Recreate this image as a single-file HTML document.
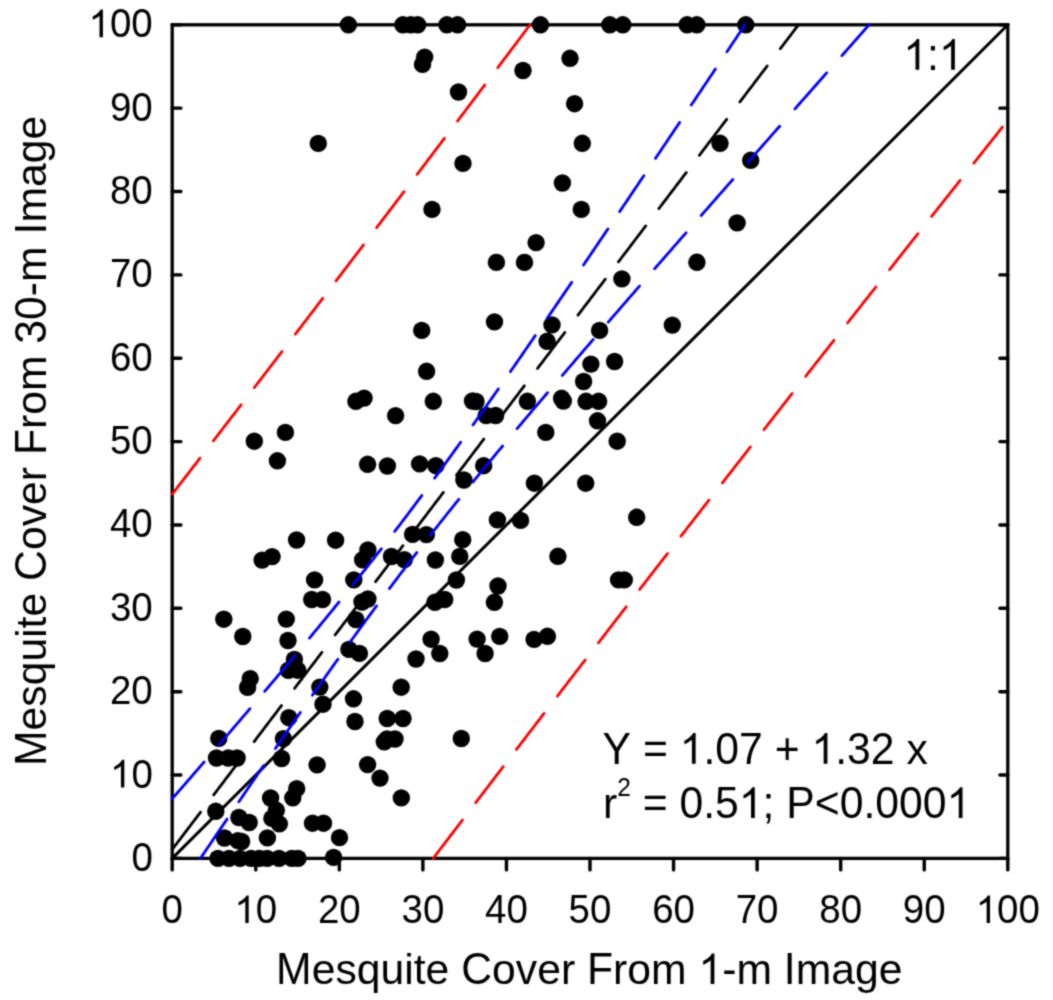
<!DOCTYPE html>
<html><head><meta charset="utf-8"><title>Mesquite Cover</title>
<style>html,body{margin:0;padding:0;background:#fff;} body{width:1053px;height:1000px;overflow:hidden;font-family:"Liberation Sans", sans-serif;} svg{display:block;}</style>
</head><body>
<svg width="1053" height="1000" viewBox="0 0 1053 1000">
<defs><filter id="soft" filterUnits="userSpaceOnUse" x="0" y="0" width="1053" height="1000" color-interpolation-filters="sRGB"><feConvolveMatrix order="3" kernelMatrix="1 3 1 3 9 3 1 3 1" divisor="25" edgeMode="duplicate" preserveAlpha="true"/></filter></defs>
<g filter="url(#soft)">
<rect width="1053" height="1000" fill="#fff"/>
<rect x="172.20" y="24.80" width="835.60" height="833.60" fill="none" stroke="#000" stroke-width="3.3"/>
<path d="M172.20,858.40 h8.7 M1007.80,858.40 h-7.9 M172.20,858.40 v11.5 M172.20,775.04 h8.7 M1007.80,775.04 h-7.9 M255.76,858.40 v11.5 M172.20,691.68 h8.7 M1007.80,691.68 h-7.9 M339.32,858.40 v11.5 M172.20,608.32 h8.7 M1007.80,608.32 h-7.9 M422.88,858.40 v11.5 M172.20,524.96 h8.7 M1007.80,524.96 h-7.9 M506.44,858.40 v11.5 M172.20,441.60 h8.7 M1007.80,441.60 h-7.9 M590.00,858.40 v11.5 M172.20,358.24 h8.7 M1007.80,358.24 h-7.9 M673.56,858.40 v11.5 M172.20,274.88 h8.7 M1007.80,274.88 h-7.9 M757.12,858.40 v11.5 M172.20,191.52 h8.7 M1007.80,191.52 h-7.9 M840.68,858.40 v11.5 M172.20,108.16 h8.7 M1007.80,108.16 h-7.9 M924.24,858.40 v11.5 M172.20,24.80 h8.7 M1007.80,24.80 h-7.9 M1007.80,858.40 v11.5" stroke="#000" stroke-width="3.4" stroke-linecap="round" fill="none"/>
<g fill="#000">
<circle cx="348.4" cy="24.8" r="8.7"/>
<circle cx="402.9" cy="24.8" r="8.7"/>
<circle cx="410.8" cy="24.8" r="8.7"/>
<circle cx="417.7" cy="24.8" r="8.7"/>
<circle cx="446.9" cy="24.8" r="8.7"/>
<circle cx="457.6" cy="24.8" r="8.7"/>
<circle cx="540.5" cy="24.8" r="8.7"/>
<circle cx="609.8" cy="24.8" r="8.7"/>
<circle cx="622.8" cy="24.8" r="8.7"/>
<circle cx="687.1" cy="24.8" r="8.7"/>
<circle cx="696.9" cy="24.8" r="8.7"/>
<circle cx="745.8" cy="24.8" r="8.7"/>
<circle cx="424.7" cy="57.1" r="8.7"/>
<circle cx="422.5" cy="64.4" r="8.7"/>
<circle cx="458.5" cy="92" r="8.7"/>
<circle cx="463" cy="163.4" r="8.7"/>
<circle cx="318.3" cy="143.4" r="8.7"/>
<circle cx="523" cy="70.5" r="8.7"/>
<circle cx="570" cy="58.3" r="8.7"/>
<circle cx="574.6" cy="103.7" r="8.7"/>
<circle cx="582.3" cy="143.3" r="8.7"/>
<circle cx="562.4" cy="183" r="8.7"/>
<circle cx="720" cy="143.3" r="8.7"/>
<circle cx="750.7" cy="160.3" r="8.7"/>
<circle cx="432" cy="209.4" r="8.7"/>
<circle cx="581.3" cy="209.4" r="8.7"/>
<circle cx="536.1" cy="242.6" r="8.7"/>
<circle cx="496.4" cy="262.4" r="8.7"/>
<circle cx="524.5" cy="262.4" r="8.7"/>
<circle cx="621.9" cy="278.9" r="8.7"/>
<circle cx="737.1" cy="222.9" r="8.7"/>
<circle cx="696.9" cy="262.3" r="8.7"/>
<circle cx="672.3" cy="325.1" r="8.7"/>
<circle cx="599.6" cy="330.4" r="8.7"/>
<circle cx="494.5" cy="321.9" r="8.7"/>
<circle cx="421.7" cy="330.4" r="8.7"/>
<circle cx="552" cy="324.9" r="8.7"/>
<circle cx="547.1" cy="341.3" r="8.7"/>
<circle cx="426.6" cy="371.3" r="8.7"/>
<circle cx="355.9" cy="401.3" r="8.7"/>
<circle cx="364.1" cy="398.1" r="8.7"/>
<circle cx="395.6" cy="415.6" r="8.7"/>
<circle cx="433.3" cy="401.3" r="8.7"/>
<circle cx="472.5" cy="401" r="8.7"/>
<circle cx="476" cy="401.5" r="8.7"/>
<circle cx="486.2" cy="415.5" r="8.7"/>
<circle cx="495.6" cy="415.5" r="8.7"/>
<circle cx="367.6" cy="464.3" r="8.7"/>
<circle cx="387.4" cy="466" r="8.7"/>
<circle cx="419.6" cy="463.9" r="8.7"/>
<circle cx="435.9" cy="465.7" r="8.7"/>
<circle cx="463.9" cy="480" r="8.7"/>
<circle cx="483.7" cy="465.7" r="8.7"/>
<circle cx="254.3" cy="441.2" r="8.7"/>
<circle cx="285.4" cy="432.4" r="8.7"/>
<circle cx="277.4" cy="460.8" r="8.7"/>
<circle cx="590.9" cy="364.1" r="8.7"/>
<circle cx="614.6" cy="361.5" r="8.7"/>
<circle cx="583.6" cy="381.5" r="8.7"/>
<circle cx="527.4" cy="401.3" r="8.7"/>
<circle cx="561.6" cy="398.3" r="8.7"/>
<circle cx="563.3" cy="401" r="8.7"/>
<circle cx="586.1" cy="401.3" r="8.7"/>
<circle cx="598.6" cy="401.3" r="8.7"/>
<circle cx="597.5" cy="420.8" r="8.7"/>
<circle cx="545.8" cy="432.4" r="8.7"/>
<circle cx="617.2" cy="441.2" r="8.7"/>
<circle cx="534.4" cy="483.2" r="8.7"/>
<circle cx="585.7" cy="483.2" r="8.7"/>
<circle cx="296.6" cy="540" r="8.7"/>
<circle cx="262.1" cy="560.1" r="8.7"/>
<circle cx="272.1" cy="556.6" r="8.7"/>
<circle cx="314.6" cy="579.9" r="8.7"/>
<circle cx="311.7" cy="599.5" r="8.7"/>
<circle cx="322.5" cy="599.5" r="8.7"/>
<circle cx="223.8" cy="619.2" r="8.7"/>
<circle cx="242.8" cy="636.5" r="8.7"/>
<circle cx="286.3" cy="619.1" r="8.7"/>
<circle cx="288" cy="640.5" r="8.7"/>
<circle cx="294.4" cy="659.5" r="8.7"/>
<circle cx="288.4" cy="670.3" r="8.7"/>
<circle cx="297.7" cy="670.2" r="8.7"/>
<circle cx="335.6" cy="540.2" r="8.7"/>
<circle cx="367.9" cy="550" r="8.7"/>
<circle cx="362.6" cy="559.8" r="8.7"/>
<circle cx="353.8" cy="579.9" r="8.7"/>
<circle cx="391.5" cy="556.5" r="8.7"/>
<circle cx="404.3" cy="559.6" r="8.7"/>
<circle cx="412.6" cy="534.4" r="8.7"/>
<circle cx="426.4" cy="534.6" r="8.7"/>
<circle cx="435.4" cy="560" r="8.7"/>
<circle cx="462.7" cy="539.7" r="8.7"/>
<circle cx="459.8" cy="556.4" r="8.7"/>
<circle cx="456.4" cy="580" r="8.7"/>
<circle cx="434.9" cy="602.3" r="8.7"/>
<circle cx="444.7" cy="599.5" r="8.7"/>
<circle cx="367.9" cy="599" r="8.7"/>
<circle cx="362" cy="602" r="8.7"/>
<circle cx="355.9" cy="619.6" r="8.7"/>
<circle cx="348.9" cy="649.4" r="8.7"/>
<circle cx="359.4" cy="653.4" r="8.7"/>
<circle cx="431.1" cy="639.2" r="8.7"/>
<circle cx="439.8" cy="653.5" r="8.7"/>
<circle cx="416" cy="659" r="8.7"/>
<circle cx="477.1" cy="639.1" r="8.7"/>
<circle cx="485.1" cy="653.5" r="8.7"/>
<circle cx="497.4" cy="519.9" r="8.7"/>
<circle cx="520.6" cy="520.4" r="8.7"/>
<circle cx="636.7" cy="517.3" r="8.7"/>
<circle cx="557.9" cy="556.3" r="8.7"/>
<circle cx="618.6" cy="579.9" r="8.7"/>
<circle cx="624.3" cy="579.9" r="8.7"/>
<circle cx="498" cy="586" r="8.7"/>
<circle cx="494.4" cy="602.3" r="8.7"/>
<circle cx="499.7" cy="636.4" r="8.7"/>
<circle cx="534.1" cy="639.4" r="8.7"/>
<circle cx="547.4" cy="636.3" r="8.7"/>
<circle cx="250.2" cy="678.7" r="8.7"/>
<circle cx="247.6" cy="687.4" r="8.7"/>
<circle cx="218.8" cy="738.4" r="8.7"/>
<circle cx="216.5" cy="758" r="8.7"/>
<circle cx="228.2" cy="758" r="8.7"/>
<circle cx="237.1" cy="758" r="8.7"/>
<circle cx="215.8" cy="811.3" r="8.7"/>
<circle cx="238.9" cy="817.5" r="8.7"/>
<circle cx="249.2" cy="822.5" r="8.7"/>
<circle cx="224.5" cy="838.0" r="8.7"/>
<circle cx="237.9" cy="840.6" r="8.7"/>
<circle cx="241.6" cy="841.5" r="8.7"/>
<circle cx="267.4" cy="837.9" r="8.7"/>
<circle cx="319.8" cy="687.1" r="8.7"/>
<circle cx="323" cy="704.2" r="8.7"/>
<circle cx="288.8" cy="717.7" r="8.7"/>
<circle cx="283.4" cy="738.6" r="8.7"/>
<circle cx="281.6" cy="758.5" r="8.7"/>
<circle cx="317.1" cy="764.9" r="8.7"/>
<circle cx="296.7" cy="788.7" r="8.7"/>
<circle cx="292.8" cy="797.8" r="8.7"/>
<circle cx="270.6" cy="798" r="8.7"/>
<circle cx="276.3" cy="810.3" r="8.7"/>
<circle cx="271.9" cy="818.4" r="8.7"/>
<circle cx="279.3" cy="823.9" r="8.7"/>
<circle cx="312.5" cy="823.2" r="8.7"/>
<circle cx="323.5" cy="823.2" r="8.7"/>
<circle cx="339.5" cy="837.6" r="8.7"/>
<circle cx="333.6" cy="857.4" r="8.7"/>
<circle cx="353.5" cy="698.8" r="8.7"/>
<circle cx="355" cy="721.5" r="8.7"/>
<circle cx="401.2" cy="687.2" r="8.7"/>
<circle cx="387.2" cy="718.5" r="8.7"/>
<circle cx="403" cy="718.5" r="8.7"/>
<circle cx="384.3" cy="741.8" r="8.7"/>
<circle cx="387" cy="739" r="8.7"/>
<circle cx="395" cy="739" r="8.7"/>
<circle cx="367.6" cy="764.6" r="8.7"/>
<circle cx="380" cy="778.1" r="8.7"/>
<circle cx="401.3" cy="797.9" r="8.7"/>
<circle cx="461.3" cy="738.5" r="8.7"/>
<circle cx="218" cy="858.4" r="8.7"/>
<circle cx="229" cy="858.4" r="8.7"/>
<circle cx="240" cy="858.4" r="8.7"/>
<circle cx="251" cy="858.4" r="8.7"/>
<circle cx="259.5" cy="858.4" r="8.7"/>
<circle cx="267.2" cy="858.4" r="8.7"/>
<circle cx="279" cy="858.4" r="8.7"/>
<circle cx="291.8" cy="858.4" r="8.7"/>
<circle cx="298" cy="858.4" r="8.7"/>
</g>
<g fill="none" stroke-linecap="round" stroke-linejoin="round">
<path d="M172.20,858.40 L1007.80,24.80" stroke="#000" stroke-width="3"/>
<path d="M172.20,849.48 L173.62,847.62 L175.03,845.75 L176.45,843.89 L177.87,842.02 L179.28,840.16 L180.70,838.29 L182.11,836.43 L183.53,834.56 L184.95,832.70 L186.36,830.83 L187.78,828.97 L189.20,827.10 L190.61,825.24 L192.03,823.37 L193.44,821.51 L194.86,819.64 L196.28,817.78 L197.69,815.91 L199.11,814.05 L200.53,812.18 M213.66,794.88 L215.03,793.08 L216.40,791.28 L217.76,789.48 L219.13,787.68 L220.50,785.88 L221.86,784.08 L223.23,782.28 L224.60,780.48 L225.97,778.68 L227.33,776.88 L228.70,775.08 L230.07,773.28 L231.43,771.48 L232.80,769.68 L234.17,767.88 L235.53,766.08 L236.90,764.28 L238.27,762.48 L239.63,760.68 L241.00,758.88 M254.14,741.58 L255.51,739.78 L256.87,737.98 L258.24,736.18 L259.61,734.38 L260.97,732.58 L262.34,730.78 L263.71,728.98 L265.07,727.18 L266.44,725.38 L267.81,723.58 L269.17,721.78 L270.54,719.98 L271.91,718.18 L273.28,716.38 L274.64,714.58 L276.01,712.78 L277.38,710.98 L278.74,709.18 L280.11,707.38 L281.48,705.58 M294.61,688.28 L295.98,686.48 L297.35,684.68 L298.71,682.88 L300.08,681.08 L301.45,679.28 L302.82,677.48 L304.18,675.68 L305.55,673.88 L306.92,672.08 L308.28,670.28 L309.65,668.48 L311.02,666.68 L312.38,664.88 L313.75,663.08 L315.12,661.28 L316.48,659.48 L317.85,657.68 L319.22,655.88 L320.59,654.08 L321.95,652.28 M335.09,634.98 L336.46,633.18 L337.82,631.38 L339.19,629.58 L340.56,627.78 L341.92,625.98 L343.29,624.18 L344.66,622.38 L346.03,620.58 L347.39,618.78 L348.76,616.98 L350.13,615.18 L351.49,613.38 L352.86,611.58 L354.23,609.78 L355.59,607.98 L356.96,606.18 L358.33,604.38 L359.69,602.58 L361.06,600.78 L362.43,598.98 M375.57,581.68 L376.93,579.88 L378.30,578.08 L379.67,576.28 L381.03,574.48 L382.40,572.68 L383.77,570.88 L385.13,569.08 L386.50,567.28 L387.87,565.48 L389.23,563.68 L390.60,561.88 L391.97,560.08 L393.34,558.28 L394.70,556.48 L396.07,554.68 L397.44,552.88 L398.80,551.08 L400.17,549.28 L401.54,547.48 L402.90,545.68 M416.04,528.38 L417.41,526.58 L418.78,524.78 L420.14,522.98 L421.51,521.18 L422.88,519.38 L424.24,517.58 L425.61,515.78 L426.98,513.98 L428.34,512.18 L429.71,510.38 L431.08,508.58 L432.44,506.78 L433.81,504.98 L435.18,503.18 L436.54,501.38 L437.91,499.58 L439.28,497.78 L440.65,495.98 L442.01,494.18 L443.38,492.38 M456.52,475.08 L457.88,473.28 L459.25,471.48 L460.62,469.68 L461.98,467.88 L463.35,466.08 L464.72,464.28 L466.09,462.48 L467.45,460.68 L468.82,458.88 L470.19,457.08 L471.55,455.28 L472.92,453.48 L474.29,451.68 L475.65,449.88 L477.02,448.08 L478.39,446.28 L479.75,444.48 L481.12,442.68 L482.49,440.88 L483.86,439.08 M496.99,421.78 L498.36,419.98 L499.73,418.18 L501.09,416.38 L502.46,414.58 L503.83,412.78 L505.19,410.98 L506.56,409.18 L507.93,407.38 L509.29,405.58 L510.66,403.78 L512.03,401.98 L513.40,400.18 L514.76,398.38 L516.13,396.58 L517.50,394.78 L518.86,392.98 L520.23,391.18 L521.60,389.38 L522.96,387.58 L524.33,385.78 M537.47,368.48 L538.84,366.68 L540.20,364.88 L541.57,363.08 L542.94,361.28 L544.30,359.48 L545.67,357.68 L547.04,355.88 L548.40,354.08 L549.77,352.28 L551.14,350.48 L552.50,348.68 L553.87,346.88 L555.24,345.08 L556.60,343.28 L557.97,341.48 L559.34,339.68 L560.71,337.88 L562.07,336.08 L563.44,334.28 L564.81,332.48 M577.94,315.18 L579.31,313.38 L580.68,311.58 L582.04,309.78 L583.41,307.98 L584.78,306.18 L586.15,304.38 L587.51,302.58 L588.88,300.78 L590.25,298.98 L591.61,297.18 L592.98,295.38 L594.35,293.58 L595.71,291.78 L597.08,289.98 L598.45,288.18 L599.81,286.38 L601.18,284.58 L602.55,282.78 L603.92,280.98 L605.28,279.18 M618.42,261.88 L619.79,260.08 L621.15,258.28 L622.52,256.48 L623.89,254.68 L625.25,252.88 L626.62,251.08 L627.99,249.28 L629.35,247.48 L630.72,245.68 L632.09,243.88 L633.46,242.08 L634.82,240.28 L636.19,238.48 L637.56,236.68 L638.92,234.88 L640.29,233.08 L641.66,231.28 L643.02,229.48 L644.39,227.68 L645.76,225.88 M658.90,208.58 L660.26,206.78 L661.63,204.98 L663.00,203.18 L664.36,201.38 L665.73,199.58 L667.10,197.78 L668.46,195.98 L669.83,194.18 L671.20,192.38 L672.56,190.58 L673.93,188.78 L675.30,186.98 L676.67,185.18 L678.03,183.38 L679.40,181.58 L680.77,179.78 L682.13,177.98 L683.50,176.18 L684.87,174.38 L686.23,172.58 M699.37,155.28 L700.74,153.48 L702.10,151.68 L703.47,149.88 L704.84,148.08 L706.21,146.28 L707.57,144.48 L708.94,142.68 L710.31,140.88 L711.67,139.08 L713.04,137.28 L714.41,135.48 L715.77,133.68 L717.14,131.88 L718.51,130.08 L719.87,128.28 L721.24,126.48 L722.61,124.68 L723.98,122.88 L725.34,121.08 L726.71,119.28 M739.85,101.98 L741.21,100.18 L742.58,98.38 L743.95,96.58 L745.31,94.78 L746.68,92.98 L748.05,91.18 L749.41,89.38 L750.78,87.58 L752.15,85.78 L753.52,83.98 L754.88,82.18 L756.25,80.38 L757.62,78.58 L758.98,76.78 L760.35,74.98 L761.72,73.18 L763.08,71.38 L764.45,69.58 L765.82,67.78 L767.18,65.98 M780.32,48.68 L781.72,46.84 L783.11,45.01 L784.51,43.17 L785.90,41.33 L787.30,39.50 L788.69,37.66 L790.09,35.82 L791.48,33.98 L792.88,32.15 L794.27,30.31 L795.67,28.47 L797.06,26.64 L798.46,24.80" stroke="#000" stroke-width="2.8"/>
<path d="M172.20,798.79 L173.80,796.95 L175.40,795.11 L177.00,793.27 L178.60,791.43 L180.20,789.59 L181.79,787.75 L183.39,785.91 L184.99,784.07 L186.58,782.23 L188.18,780.39 L189.78,778.55 L191.37,776.71 L192.97,774.87 L194.56,773.03 L196.15,771.19 L197.75,769.35 L199.34,767.51 L200.93,765.67 L202.52,763.83 L204.11,761.99 M219.05,744.69 L220.60,742.89 L222.15,741.09 L223.70,739.29 L225.25,737.49 L226.80,735.69 L228.34,733.89 L229.89,732.09 L231.44,730.29 L232.98,728.49 L234.53,726.69 L236.07,724.89 L237.61,723.09 L239.16,721.29 L240.70,719.49 L242.24,717.69 L243.78,715.89 L245.32,714.09 L246.86,712.29 L248.40,710.49 L249.93,708.69 M264.67,691.39 L266.19,689.59 L267.72,687.79 L269.25,685.99 L270.77,684.19 L272.30,682.39 L273.82,680.59 L275.34,678.79 L276.86,676.99 L278.38,675.19 L279.90,673.39 L281.42,671.59 L282.94,669.79 L284.45,667.99 L285.96,666.19 L287.48,664.39 L288.99,662.59 L290.50,660.79 L292.01,658.99 L293.52,657.19 L295.02,655.39 M309.44,638.09 L310.93,636.29 L312.42,634.49 L313.91,632.69 L315.40,630.89 L316.88,629.09 L318.37,627.29 L319.85,625.49 L321.33,623.69 L322.81,621.89 L324.29,620.09 L325.77,618.29 L327.24,616.49 L328.71,614.69 L330.18,612.89 L331.65,611.09 L333.12,609.29 L334.59,607.49 L336.05,605.69 L337.51,603.89 L338.97,602.09 M352.91,584.79 L354.35,582.99 L355.79,581.19 L357.23,579.39 L358.66,577.59 L360.09,575.79 L361.52,573.99 L362.95,572.19 L364.38,570.39 L365.80,568.59 L367.22,566.79 L368.64,564.99 L370.06,563.19 L371.47,561.39 L372.88,559.59 L374.29,557.79 L375.70,555.99 L377.11,554.19 L378.51,552.39 L379.92,550.59 L381.32,548.79 M394.66,531.49 L396.04,529.69 L397.41,527.89 L398.79,526.09 L400.16,524.29 L401.53,522.49 L402.89,520.69 L404.26,518.89 L405.62,517.09 L406.98,515.29 L408.34,513.49 L409.69,511.69 L411.05,509.89 L412.40,508.09 L413.75,506.29 L415.10,504.49 L416.44,502.69 L417.79,500.89 L419.13,499.09 L420.47,497.29 L421.81,495.49 M434.58,478.19 L435.90,476.39 L437.22,474.59 L438.53,472.79 L439.85,470.99 L441.16,469.19 L442.47,467.39 L443.78,465.59 L445.09,463.79 L446.40,461.99 L447.70,460.19 L449.00,458.39 L450.31,456.59 L451.61,454.79 L452.91,452.99 L454.20,451.19 L455.50,449.39 L456.79,447.59 L458.09,445.79 L459.38,443.99 L460.67,442.19 M473.01,424.89 L474.28,423.09 L475.56,421.29 L476.83,419.49 L478.11,417.69 L479.38,415.89 L480.65,414.09 L481.92,412.29 L483.19,410.49 L484.46,408.69 L485.73,406.89 L487.00,405.09 L488.26,403.29 L489.53,401.49 L490.79,399.69 L492.05,397.89 L493.31,396.09 L494.58,394.29 L495.84,392.49 L497.09,390.69 L498.35,388.89 M510.41,371.59 L511.66,369.79 L512.90,367.99 L514.15,366.19 L515.40,364.39 L516.65,362.59 L517.90,360.79 L519.14,358.99 L520.39,357.19 L521.63,355.39 L522.87,353.59 L524.12,351.79 L525.36,349.99 L526.60,348.19 L527.84,346.39 L529.09,344.59 L530.33,342.79 L531.57,340.99 L532.81,339.19 L534.04,337.39 L535.28,335.59 M547.16,318.29 L548.39,316.49 L549.62,314.69 L550.85,312.89 L552.09,311.09 L553.32,309.29 L554.55,307.49 L555.78,305.69 L557.01,303.89 L558.24,302.09 L559.47,300.29 L560.70,298.49 L561.92,296.69 L563.15,294.89 L564.38,293.09 L565.61,291.29 L566.83,289.49 L568.06,287.69 L569.29,285.89 L570.51,284.09 L571.74,282.29 M583.50,264.99 L584.72,263.19 L585.94,261.39 L587.16,259.59 L588.39,257.79 L589.61,255.99 L590.83,254.19 L592.05,252.39 L593.27,250.59 L594.49,248.79 L595.71,246.99 L596.93,245.19 L598.15,243.39 L599.36,241.59 L600.58,239.79 L601.80,237.99 L603.02,236.19 L604.24,234.39 L605.45,232.59 L606.67,230.79 L607.89,228.99 M619.58,211.69 L620.79,209.89 L622.01,208.09 L623.22,206.29 L624.43,204.49 L625.65,202.69 L626.86,200.89 L628.08,199.09 L629.29,197.29 L630.50,195.49 L631.72,193.69 L632.93,191.89 L634.14,190.09 L635.36,188.29 L636.57,186.49 L637.78,184.69 L638.99,182.89 L640.20,181.09 L641.42,179.29 L642.63,177.49 L643.84,175.69 M655.48,158.39 L656.69,156.59 L657.90,154.79 L659.11,152.99 L660.32,151.19 L661.53,149.39 L662.73,147.59 L663.94,145.79 L665.15,143.99 L666.36,142.19 L667.57,140.39 L668.78,138.59 L669.99,136.79 L671.20,134.99 L672.41,133.19 L673.61,131.39 L674.82,129.59 L676.03,127.79 L677.24,125.99 L678.45,124.19 L679.65,122.39 M691.25,105.09 L692.46,103.29 L693.67,101.49 L694.87,99.69 L696.08,97.89 L697.29,96.09 L698.49,94.29 L699.70,92.49 L700.90,90.69 L702.11,88.89 L703.32,87.09 L704.52,85.29 L705.73,83.49 L706.93,81.69 L708.14,79.89 L709.34,78.09 L710.55,76.29 L711.75,74.49 L712.96,72.69 L714.16,70.89 L715.37,69.09 M726.94,51.79 L728.15,49.99 L729.35,48.19 L730.55,46.39 L731.76,44.59 L732.96,42.79 L734.16,40.99 L735.37,39.19 L736.57,37.39 L737.77,35.59 L738.97,33.80 L740.18,32.00 L741.38,30.20 L742.58,28.40 L743.79,26.60 L744.99,24.80" stroke="#0000ff" stroke-width="2.8"/>
<path d="M200.41,858.40 L201.67,856.53 L202.94,854.66 L204.21,852.79 L205.47,850.91 L206.74,849.04 L208.01,847.17 L209.28,845.30 L210.54,843.43 L211.81,841.56 L213.08,839.69 L214.35,837.81 L215.62,835.94 L216.89,834.07 L218.16,832.20 L219.43,830.33 L220.70,828.46 L221.97,826.59 L223.24,824.71 L224.51,822.84 L225.79,820.97 L227.06,819.10 M238.84,801.80 L240.06,800.00 L241.29,798.20 L242.52,796.40 L243.75,794.60 L244.98,792.80 L246.21,791.00 L247.44,789.20 L248.67,787.40 L249.90,785.60 L251.13,783.80 L252.36,782.00 L253.59,780.20 L254.82,778.40 L256.06,776.60 L257.29,774.80 L258.52,773.00 L259.76,771.20 L260.99,769.40 L262.23,767.60 L263.46,765.80 M275.36,748.50 L276.60,746.70 L277.85,744.90 L279.09,743.10 L280.33,741.30 L281.57,739.50 L282.82,737.70 L284.06,735.90 L285.31,734.10 L286.56,732.30 L287.80,730.50 L289.05,728.70 L290.30,726.90 L291.55,725.10 L292.80,723.30 L294.05,721.50 L295.30,719.70 L296.55,717.90 L297.80,716.10 L299.06,714.30 L300.31,712.50 M312.40,695.20 L313.67,693.40 L314.93,691.60 L316.20,689.80 L317.46,688.00 L318.73,686.20 L320.00,684.40 L321.27,682.60 L322.54,680.80 L323.81,679.00 L325.08,677.20 L326.35,675.40 L327.63,673.60 L328.90,671.80 L330.18,670.00 L331.46,668.20 L332.74,666.40 L334.02,664.60 L335.30,662.80 L336.58,661.00 L337.86,659.20 M350.27,641.90 L351.57,640.10 L352.86,638.30 L354.17,636.50 L355.47,634.70 L356.77,632.90 L358.08,631.10 L359.38,629.30 L360.69,627.50 L362.00,625.70 L363.31,623.90 L364.63,622.10 L365.94,620.30 L367.26,618.50 L368.58,616.70 L369.90,614.90 L371.22,613.10 L372.54,611.30 L373.87,609.50 L375.19,607.70 L376.52,605.90 M389.39,588.60 L390.74,586.80 L392.09,585.00 L393.44,583.20 L394.80,581.40 L396.16,579.60 L397.51,577.80 L398.88,576.00 L400.24,574.20 L401.60,572.40 L402.97,570.60 L404.34,568.80 L405.71,567.00 L407.09,565.20 L408.46,563.40 L409.84,561.60 L411.22,559.80 L412.60,558.00 L413.99,556.20 L415.37,554.40 L416.76,552.60 M430.22,535.30 L431.63,533.50 L433.04,531.70 L434.46,529.90 L435.88,528.10 L437.30,526.30 L438.72,524.50 L440.14,522.70 L441.57,520.90 L443.00,519.10 L444.43,517.30 L445.86,515.50 L447.30,513.70 L448.73,511.90 L450.17,510.10 L451.61,508.30 L453.05,506.50 L454.50,504.70 L455.95,502.90 L457.39,501.10 L458.84,499.30 M472.88,482.00 L474.35,480.20 L475.82,478.40 L477.30,476.60 L478.77,474.80 L480.25,473.00 L481.73,471.20 L483.21,469.40 L484.69,467.60 L486.17,465.80 L487.66,464.00 L489.14,462.20 L490.63,460.40 L492.12,458.60 L493.61,456.80 L495.11,455.00 L496.60,453.20 L498.10,451.40 L499.59,449.60 L501.09,447.80 L502.59,446.00 M517.07,428.70 L518.59,426.90 L520.10,425.10 L521.62,423.30 L523.13,421.50 L524.65,419.70 L526.17,417.90 L527.69,416.10 L529.21,414.30 L530.74,412.50 L532.26,410.70 L533.78,408.90 L535.31,407.10 L536.83,405.30 L538.36,403.50 L539.89,401.70 L541.42,399.90 L542.95,398.10 L544.48,396.30 L546.01,394.50 L547.55,392.70 M562.32,375.40 L563.86,373.60 L565.41,371.80 L566.95,370.00 L568.49,368.20 L570.04,366.40 L571.58,364.60 L573.13,362.80 L574.67,361.00 L576.22,359.20 L577.77,357.40 L579.32,355.60 L580.87,353.80 L582.42,352.00 L583.97,350.20 L585.52,348.40 L587.07,346.60 L588.62,344.80 L590.17,343.00 L591.73,341.20 L593.28,339.40 M608.24,322.10 L609.80,320.30 L611.36,318.50 L612.92,316.70 L614.48,314.90 L616.04,313.10 L617.60,311.30 L619.17,309.50 L620.73,307.70 L622.29,305.90 L623.85,304.10 L625.42,302.30 L626.98,300.50 L628.55,298.70 L630.11,296.90 L631.68,295.10 L633.24,293.30 L634.81,291.50 L636.37,289.70 L637.94,287.90 L639.51,286.10 M654.58,268.80 L656.15,267.00 L657.72,265.20 L659.30,263.40 L660.87,261.60 L662.44,259.80 L664.01,258.00 L665.58,256.20 L667.16,254.40 L668.73,252.60 L670.30,250.80 L671.87,249.00 L673.45,247.20 L675.02,245.40 L676.60,243.60 L678.17,241.80 L679.74,240.00 L681.32,238.20 L682.89,236.40 L684.47,234.60 L686.04,232.80 M701.20,215.50 L702.78,213.70 L704.35,211.90 L705.93,210.10 L707.51,208.30 L709.09,206.50 L710.67,204.70 L712.25,202.90 L713.83,201.10 L715.41,199.30 L716.98,197.50 L718.56,195.70 L720.14,193.90 L721.72,192.10 L723.30,190.30 L724.89,188.50 L726.47,186.70 L728.05,184.90 L729.63,183.10 L731.21,181.30 L732.79,179.50 M747.99,162.20 L749.58,160.40 L751.16,158.60 L752.74,156.80 L754.33,155.00 L755.91,153.20 L757.49,151.40 L759.08,149.60 L760.66,147.80 L762.25,146.00 L763.83,144.20 L765.41,142.40 L767.00,140.60 L768.58,138.80 L770.17,137.00 L771.75,135.20 L773.34,133.40 L774.92,131.60 L776.51,129.80 L778.09,128.00 L779.68,126.20 M794.92,108.90 L796.50,107.10 L798.09,105.30 L799.68,103.50 L801.26,101.70 L802.85,99.90 L804.44,98.10 L806.02,96.30 L807.61,94.50 L809.20,92.70 L810.79,90.90 L812.37,89.10 L813.96,87.30 L815.55,85.50 L817.14,83.70 L818.72,81.90 L820.31,80.10 L821.90,78.30 L823.49,76.50 L825.07,74.70 L826.66,72.90 M841.93,55.60 L843.53,53.79 L845.13,51.98 L846.73,50.16 L848.33,48.35 L849.93,46.54 L851.53,44.73 L853.13,42.92 L854.73,41.11 L856.33,39.29 L857.93,37.48 L859.53,35.67 L861.13,33.86 L862.73,32.05 L864.33,30.24 L865.93,28.42 L867.53,26.61 L869.13,24.80" stroke="#0000ff" stroke-width="2.8"/>
<path d="M172.20,494.15 L173.59,492.35 L174.98,490.55 L176.38,488.75 L177.77,486.95 L179.16,485.15 L180.55,483.35 L181.94,481.55 L183.33,479.75 L184.72,477.95 L186.11,476.15 L187.50,474.35 L188.89,472.55 L190.28,470.75 L191.67,468.95 L193.06,467.15 L194.45,465.35 L195.84,463.55 L197.23,461.75 L198.62,459.95 L200.01,458.15 M213.35,440.85 L214.74,439.05 L216.13,437.25 L217.52,435.45 L218.90,433.65 L220.29,431.85 L221.68,430.05 L223.06,428.25 L224.45,426.45 L225.84,424.65 L227.22,422.85 L228.61,421.05 L229.99,419.25 L231.38,417.45 L232.76,415.65 L234.15,413.85 L235.54,412.05 L236.92,410.25 L238.31,408.45 L239.69,406.65 L241.07,404.85 M254.37,387.55 L255.76,385.75 L257.14,383.95 L258.52,382.15 L259.91,380.35 L261.29,378.55 L262.67,376.75 L264.05,374.95 L265.43,373.15 L266.82,371.35 L268.20,369.55 L269.58,367.75 L270.96,365.95 L272.34,364.15 L273.72,362.35 L275.10,360.55 L276.48,358.75 L277.86,356.95 L279.24,355.15 L280.62,353.35 L282.00,351.55 M295.26,334.25 L296.64,332.45 L298.02,330.65 L299.40,328.85 L300.77,327.05 L302.15,325.25 L303.53,323.45 L304.91,321.65 L306.29,319.85 L307.66,318.05 L309.04,316.25 L310.42,314.45 L311.79,312.65 L313.17,310.85 L314.55,309.05 L315.92,307.25 L317.30,305.45 L318.68,303.65 L320.05,301.85 L321.43,300.05 L322.80,298.25 M336.02,280.95 L337.39,279.15 L338.76,277.35 L340.14,275.55 L341.51,273.75 L342.88,271.95 L344.26,270.15 L345.63,268.35 L347.00,266.55 L348.38,264.75 L349.75,262.95 L351.12,261.15 L352.49,259.35 L353.87,257.55 L355.24,255.75 L356.61,253.95 L357.98,252.15 L359.35,250.35 L360.73,248.55 L362.10,246.75 L363.47,244.95 M376.64,227.65 L378.01,225.85 L379.38,224.05 L380.75,222.25 L382.12,220.45 L383.49,218.65 L384.85,216.85 L386.22,215.05 L387.59,213.25 L388.96,211.45 L390.33,209.65 L391.70,207.85 L393.06,206.05 L394.43,204.25 L395.80,202.45 L397.17,200.65 L398.53,198.85 L399.90,197.05 L401.27,195.25 L402.64,193.45 L404.00,191.65 M417.13,174.35 L418.50,172.55 L419.86,170.75 L421.23,168.95 L422.59,167.15 L423.96,165.35 L425.32,163.55 L426.68,161.75 L428.05,159.95 L429.41,158.15 L430.78,156.35 L432.14,154.55 L433.50,152.75 L434.87,150.95 L436.23,149.15 L437.59,147.35 L438.96,145.55 L440.32,143.75 L441.68,141.95 L443.04,140.15 L444.41,138.35 M457.49,121.05 L458.85,119.25 L460.21,117.45 L461.58,115.65 L462.94,113.85 L464.30,112.05 L465.66,110.25 L467.02,108.45 L468.38,106.65 L469.74,104.85 L471.10,103.05 L472.45,101.25 L473.81,99.45 L475.17,97.65 L476.53,95.85 L477.89,94.05 L479.25,92.25 L480.61,90.45 L481.97,88.65 L483.32,86.85 L484.68,85.05 M497.73,67.75 L499.14,65.88 L500.54,64.01 L501.95,62.15 L503.36,60.28 L504.76,58.41 L506.17,56.55 L507.58,54.68 L508.98,52.81 L510.39,50.94 L511.79,49.08 L513.20,47.21 L514.61,45.34 L516.01,43.47 L517.42,41.61 L518.82,39.74 L520.23,37.87 L521.63,36.00 L523.04,34.14 L524.44,32.27 L525.84,30.40 L527.25,28.53 L528.65,26.67 L530.06,24.80" stroke="#ff0000" stroke-width="2.8"/>
<path d="M433.22,858.40 L434.61,856.57 L436.00,854.74 L437.39,852.91 L438.78,851.09 L440.18,849.26 L441.57,847.43 L442.96,845.60 L444.36,843.77 L445.75,841.94 L447.14,840.11 L448.54,838.29 L449.93,836.46 L451.33,834.63 L452.72,832.80 L454.11,830.97 L455.51,829.14 L456.90,827.31 L458.30,825.49 L459.69,823.66 L461.09,821.83 L462.48,820.00 M475.69,802.70 L477.07,800.90 L478.44,799.10 L479.82,797.30 L481.19,795.50 L482.57,793.70 L483.94,791.90 L485.32,790.10 L486.69,788.30 L488.07,786.50 L489.45,784.70 L490.82,782.90 L492.20,781.10 L493.58,779.30 L494.95,777.50 L496.33,775.70 L497.71,773.90 L499.09,772.10 L500.46,770.30 L501.84,768.50 L503.22,766.70 M516.47,749.40 L517.85,747.60 L519.23,745.80 L520.61,744.00 L521.99,742.20 L523.37,740.40 L524.75,738.60 L526.13,736.80 L527.51,735.00 L528.89,733.20 L530.27,731.40 L531.65,729.60 L533.03,727.80 L534.41,726.00 L535.80,724.20 L537.18,722.40 L538.56,720.60 L539.94,718.80 L541.32,717.00 L542.71,715.20 L544.09,713.40 M557.38,696.10 L558.77,694.30 L560.15,692.50 L561.53,690.70 L562.92,688.90 L564.30,687.10 L565.69,685.30 L567.07,683.50 L568.46,681.70 L569.84,679.90 L571.23,678.10 L572.61,676.30 L574.00,674.50 L575.39,672.70 L576.77,670.90 L578.16,669.10 L579.54,667.30 L580.93,665.50 L582.32,663.70 L583.70,661.90 L585.09,660.10 M598.43,642.80 L599.82,641.00 L601.20,639.20 L602.59,637.40 L603.98,635.60 L605.37,633.80 L606.76,632.00 L608.15,630.20 L609.54,628.40 L610.93,626.60 L612.32,624.80 L613.71,623.00 L615.10,621.20 L616.49,619.40 L617.88,617.60 L619.27,615.80 L620.66,614.00 L622.05,612.20 L623.44,610.40 L624.84,608.60 L626.23,606.80 M639.61,589.50 L641.00,587.70 L642.39,585.90 L643.79,584.10 L645.18,582.30 L646.57,580.50 L647.97,578.70 L649.36,576.90 L650.76,575.10 L652.15,573.30 L653.54,571.50 L654.94,569.70 L656.33,567.90 L657.73,566.10 L659.12,564.30 L660.52,562.50 L661.91,560.70 L663.31,558.90 L664.70,557.10 L666.10,555.30 L667.50,553.50 M680.92,536.20 L682.32,534.40 L683.72,532.60 L685.11,530.80 L686.51,529.00 L687.91,527.20 L689.31,525.40 L690.71,523.60 L692.11,521.80 L693.50,520.00 L694.90,518.20 L696.30,516.40 L697.70,514.60 L699.10,512.80 L700.50,511.00 L701.90,509.20 L703.30,507.40 L704.70,505.60 L706.10,503.80 L707.50,502.00 L708.90,500.20 M722.37,482.90 L723.77,481.10 L725.17,479.30 L726.58,477.50 L727.98,475.70 L729.38,473.90 L730.78,472.10 L732.19,470.30 L733.59,468.50 L734.99,466.70 L736.40,464.90 L737.80,463.10 L739.20,461.30 L740.61,459.50 L742.01,457.70 L743.42,455.90 L744.82,454.10 L746.22,452.30 L747.63,450.50 L749.03,448.70 L750.44,446.90 M763.95,429.60 L765.36,427.80 L766.76,426.00 L768.17,424.20 L769.58,422.40 L770.99,420.60 L772.39,418.80 L773.80,417.00 L775.21,415.20 L776.62,413.40 L778.02,411.60 L779.43,409.80 L780.84,408.00 L782.25,406.20 L783.66,404.40 L785.07,402.60 L786.47,400.80 L787.88,399.00 L789.29,397.20 L790.70,395.40 L792.11,393.60 M805.67,376.30 L807.08,374.50 L808.49,372.70 L809.90,370.90 L811.31,369.10 L812.72,367.30 L814.13,365.50 L815.55,363.70 L816.96,361.90 L818.37,360.10 L819.78,358.30 L821.20,356.50 L822.61,354.70 L824.02,352.90 L825.44,351.10 L826.85,349.30 L828.26,347.50 L829.68,345.70 L831.09,343.90 L832.50,342.10 L833.92,340.30 M847.51,323.00 L848.93,321.20 L850.35,319.40 L851.76,317.60 L853.18,315.80 L854.59,314.00 L856.01,312.20 L857.43,310.40 L858.84,308.60 L860.26,306.80 L861.68,305.00 L863.09,303.20 L864.51,301.40 L865.93,299.60 L867.35,297.80 L868.76,296.00 L870.18,294.20 L871.60,292.40 L873.02,290.60 L874.44,288.80 L875.86,287.00 M889.50,269.70 L890.92,267.90 L892.34,266.10 L893.76,264.30 L895.18,262.50 L896.60,260.70 L898.02,258.90 L899.44,257.10 L900.86,255.30 L902.28,253.50 L903.70,251.70 L905.12,249.90 L906.55,248.10 L907.97,246.30 L909.39,244.50 L910.81,242.70 L912.23,240.90 L913.66,239.10 L915.08,237.30 L916.50,235.50 L917.93,233.70 M931.61,216.40 L933.03,214.60 L934.46,212.80 L935.88,211.00 L937.31,209.20 L938.73,207.40 L940.16,205.60 L941.58,203.80 L943.01,202.00 L944.43,200.20 L945.86,198.40 L947.29,196.60 L948.71,194.80 L950.14,193.00 L951.56,191.20 L952.99,189.40 L954.42,187.60 L955.84,185.80 L957.27,184.00 L958.70,182.20 L960.13,180.40 M973.85,163.10 L975.28,161.30 L976.71,159.50 L978.14,157.70 L979.57,155.90 L981.00,154.10 L982.43,152.30 L983.86,150.50 L985.29,148.70 L986.72,146.90 L988.15,145.10 L989.58,143.30 L991.01,141.50 L992.44,139.70 L993.87,137.90 L995.30,136.10 L996.73,134.30 L998.16,132.50 L999.59,130.70 L1001.02,128.90 L1002.46,127.10" stroke="#ff0000" stroke-width="2.8"/>
</g>
<g font-family="Liberation Sans" fill="#000" style="white-space:pre">
<g transform="translate(0,870.90) scale(1,1.04)"><text x="131.39" y="0" font-size="38.5">0</text></g>
<g transform="translate(0,923.10) scale(1,1.04)"><text x="161.49" y="0" font-size="38.5">0</text></g>
<g transform="translate(0,787.54) scale(1,1.04)"><text x="131.39" y="0" font-size="38.5">0</text><path d="M763,0 L583,0 L583,1147 Q518,1085 412,1023 Q306,961 223,930 L223,1104 Q374,1175 487,1276 Q600,1377 647,1472 L763,1472 Z" transform="translate(109.98,0) scale(0.01880,-0.01808)"/></g>
<g transform="translate(0,923.10) scale(1,1.04)"><text x="255.76" y="0" font-size="38.5">0</text><path d="M763,0 L583,0 L583,1147 Q518,1085 412,1023 Q306,961 223,930 L223,1104 Q374,1175 487,1276 Q600,1377 647,1472 L763,1472 Z" transform="translate(234.35,0) scale(0.01880,-0.01808)"/></g>
<g transform="translate(0,704.18) scale(1,1.04)"><text x="109.98" y="0" font-size="38.5">20</text></g>
<g transform="translate(0,923.10) scale(1,1.04)"><text x="317.91" y="0" font-size="38.5">20</text></g>
<g transform="translate(0,620.82) scale(1,1.04)"><text x="109.98" y="0" font-size="38.5">30</text></g>
<g transform="translate(0,923.10) scale(1,1.04)"><text x="401.47" y="0" font-size="38.5">30</text></g>
<g transform="translate(0,537.46) scale(1,1.04)"><text x="109.98" y="0" font-size="38.5">40</text></g>
<g transform="translate(0,923.10) scale(1,1.04)"><text x="485.03" y="0" font-size="38.5">40</text></g>
<g transform="translate(0,454.10) scale(1,1.04)"><text x="109.98" y="0" font-size="38.5">50</text></g>
<g transform="translate(0,923.10) scale(1,1.04)"><text x="568.59" y="0" font-size="38.5">50</text></g>
<g transform="translate(0,370.74) scale(1,1.04)"><text x="109.98" y="0" font-size="38.5">60</text></g>
<g transform="translate(0,923.10) scale(1,1.04)"><text x="652.15" y="0" font-size="38.5">60</text></g>
<g transform="translate(0,287.38) scale(1,1.04)"><text x="109.98" y="0" font-size="38.5">70</text></g>
<g transform="translate(0,923.10) scale(1,1.04)"><text x="735.71" y="0" font-size="38.5">70</text></g>
<g transform="translate(0,204.02) scale(1,1.04)"><text x="109.98" y="0" font-size="38.5">80</text></g>
<g transform="translate(0,923.10) scale(1,1.04)"><text x="819.27" y="0" font-size="38.5">80</text></g>
<g transform="translate(0,120.66) scale(1,1.04)"><text x="109.98" y="0" font-size="38.5">90</text></g>
<g transform="translate(0,923.10) scale(1,1.04)"><text x="902.83" y="0" font-size="38.5">90</text></g>
<g transform="translate(0,37.30) scale(1,1.04)"><text x="109.98" y="0" font-size="38.5">00</text><path d="M763,0 L583,0 L583,1147 Q518,1085 412,1023 Q306,961 223,930 L223,1104 Q374,1175 487,1276 Q600,1377 647,1472 L763,1472 Z" transform="translate(88.56,0) scale(0.01880,-0.01808)"/></g>
<g transform="translate(0,923.10) scale(1,1.04)"><text x="997.09" y="0" font-size="38.5">00</text><path d="M763,0 L583,0 L583,1147 Q518,1085 412,1023 Q306,961 223,930 L223,1104 Q374,1175 487,1276 Q600,1377 647,1472 L763,1472 Z" transform="translate(975.68,0) scale(0.01880,-0.01808)"/></g>
<g transform="translate(0,984.10) scale(1,1.04)"><text x="276.10" y="0" font-size="42.7">M</text><text x="461.22" y="0" font-size="42.7">C</text><text x="586.99" y="0" font-size="42.7">F</text><text x="722.22" y="0" font-size="42.7">-</text><text x="783.87" y="0" font-size="42.7">I</text><path d="M763,0 L583,0 L583,1147 Q518,1085 412,1023 Q306,961 223,930 L223,1104 Q374,1175 487,1276 Q600,1377 647,1472 L763,1472 Z" transform="translate(698.47,0) scale(0.02085,-0.02005)"/></g><g transform="translate(0,984.10) scale(1,0.98)"><text x="311.67" y="0" font-size="42.7">esquite</text><text x="492.06" y="0" font-size="42.7">over</text><text x="613.07" y="0" font-size="42.7">rom</text><text x="736.44" y="0" font-size="42.7">m</text><text x="795.73" y="0" font-size="42.7">mage</text></g>
<g transform="translate(45.5,766.0) rotate(-90)"><g transform="translate(0,0.00) scale(1,1.04)"><text x="0.00" y="0" font-size="42.7">M</text><text x="185.12" y="0" font-size="42.7">C</text><text x="310.89" y="0" font-size="42.7">F</text><text x="422.37" y="0" font-size="42.7">30-</text><text x="531.52" y="0" font-size="42.7">I</text></g><g transform="translate(0,0.00) scale(1,0.98)"><text x="35.57" y="0" font-size="42.7">esquite</text><text x="215.96" y="0" font-size="42.7">over</text><text x="336.97" y="0" font-size="42.7">rom</text><text x="484.09" y="0" font-size="42.7">m</text><text x="543.38" y="0" font-size="42.7">mage</text></g></g>
<g transform="translate(0,69.70) scale(1,1.04)"><text x="927.10" y="0" font-size="42.7">:</text><path d="M763,0 L583,0 L583,1147 Q518,1085 412,1023 Q306,961 223,930 L223,1104 Q374,1175 487,1276 Q600,1377 647,1472 L763,1472 Z" transform="translate(903.35,0) scale(0.02085,-0.02005)"/><path d="M763,0 L583,0 L583,1147 Q518,1085 412,1023 Q306,961 223,930 L223,1104 Q374,1175 487,1276 Q600,1377 647,1472 L763,1472 Z" transform="translate(938.96,0) scale(0.02085,-0.02005)"/></g>
<g transform="translate(0,763.70) scale(1,1.04)"><text x="602.60" y="0" font-size="42.7">Y</text><text x="642.94" y="0" font-size="42.7">=</text><text x="703.49" y="0" font-size="42.7">.07</text><text x="774.71" y="0" font-size="42.7">+</text><text x="835.26" y="0" font-size="42.7">.32</text><path d="M763,0 L583,0 L583,1147 Q518,1085 412,1023 Q306,961 223,930 L223,1104 Q374,1175 487,1276 Q600,1377 647,1472 L763,1472 Z" transform="translate(679.74,0) scale(0.02085,-0.02005)"/><path d="M763,0 L583,0 L583,1147 Q518,1085 412,1023 Q306,961 223,930 L223,1104 Q374,1175 487,1276 Q600,1377 647,1472 L763,1472 Z" transform="translate(811.51,0) scale(0.02085,-0.02005)"/></g><g transform="translate(0,763.70) scale(1,0.98)"><text x="906.48" y="0" font-size="42.7">x</text></g>
<g transform="translate(0,817.90) scale(1,0.98)"><text x="603.00" y="0" font-size="42.7">r</text></g>
<g transform="translate(0,795.90) scale(1,1.04)"><text x="617.22" y="0" font-size="24.5">2</text></g>
<g transform="translate(0,817.90) scale(1,1.04)"><text x="642.71" y="0" font-size="42.7">=</text><text x="679.51" y="0" font-size="42.7">0.5</text><text x="762.61" y="0" font-size="42.7">;</text><text x="786.34" y="0" font-size="42.7">P&lt;0.000</text><path d="M763,0 L583,0 L583,1147 Q518,1085 412,1023 Q306,961 223,930 L223,1104 Q374,1175 487,1276 Q600,1377 647,1472 L763,1472 Z" transform="translate(738.87,0) scale(0.02085,-0.02005)"/><path d="M763,0 L583,0 L583,1147 Q518,1085 412,1023 Q306,961 223,930 L223,1104 Q374,1175 487,1276 Q600,1377 647,1472 L763,1472 Z" transform="translate(946.61,0) scale(0.02085,-0.02005)"/></g>
</g>
</g>
</svg>
</body></html>
